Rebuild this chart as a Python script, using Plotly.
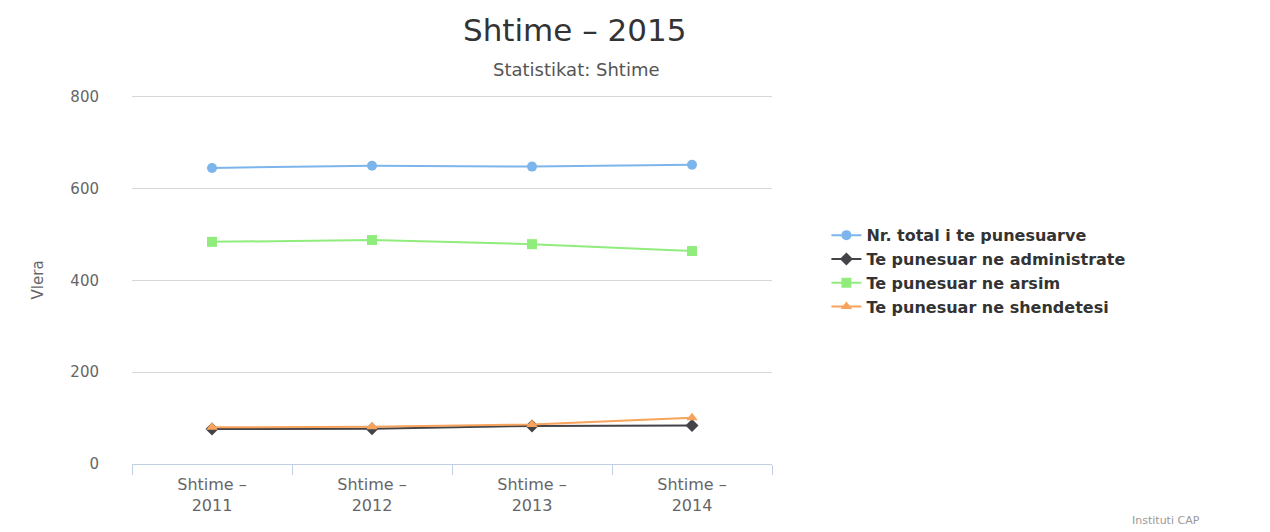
import plotly.graph_objects as go

categories = ["Shtime –<br>2011", "Shtime –<br>2012", "Shtime –<br>2013", "Shtime –<br>2014"]
total = [645, 650, 648, 652]
administrate = [76, 77, 83, 84]
arsim = [484, 488, 479, 464]
shendetesi = [80, 81, 86, 101]

series = [
    ("Nr. total i te punesuarve", total, "#7cb5ec", "circle"),
    ("Te punesuar ne administrate", administrate, "#434348", "diamond"),
    ("Te punesuar ne arsim", arsim, "#90ed7d", "square"),
    ("Te punesuar ne shendetesi", shendetesi, "#f7a35c", "triangle-up"),
]

FONT = "DejaVu Sans"
fig = go.Figure()
for i, (name, vals, col, sym) in enumerate(series):
    fig.add_trace(go.Scatter(
        x=categories, y=vals, name=name, mode="lines+markers",
        line=dict(color=col, width=2),
        marker=dict(color=col, symbol=sym, size=10),
    ))

fig.update_layout(
    width=1270, height=532,
    paper_bgcolor="white", plot_bgcolor="white",
    margin=dict(l=124, r=506, t=87, b=76),
    font=dict(family=FONT, color="#666666"),
    showlegend=True,
    legend=dict(
        x=1.085, y=0.666, xanchor="left", yanchor="top",
        font=dict(family=FONT, size=16, color="#333333", weight="bold"),
        itemwidth=30, bgcolor="rgba(0,0,0,0)",
    ),
    xaxis=dict(
        type="category", showgrid=False, showline=True, linecolor="#C0D0E0", linewidth=1,
        ticks="outside", tickson="boundaries", ticklen=10, tickcolor="#C0D0E0",
        tickfont=dict(family=FONT, size=16, color="#666666"),
        ticklabelstandoff=6,
        range=[-0.5, 3.5], fixedrange=True,
    ),
    yaxis=dict(
        range=[0, 804], tickvals=[0, 200, 400, 600, 800], showgrid=True,
        gridcolor="#D8D8D8", gridwidth=1, zeroline=False, showline=False,
        tickfont=dict(family=FONT, size=15, color="#666666"),
        ticklabelstandoff=32,
    ),
    annotations=[
        dict(text="Shtime – 2015", x=0.692, y=1.176, xref="paper", yref="paper",
             xanchor="center", yanchor="middle", showarrow=False,
             font=dict(family=FONT, size=31, color="#333333")),
        dict(text="Statistikat: Shtime", x=0.695, y=1.069, xref="paper", yref="paper",
             xanchor="center", yanchor="middle", showarrow=False,
             font=dict(family=FONT, size=18, color="#555555")),
        dict(text="Vlera", x=-0.147, y=0.5, xref="paper", yref="paper",
             xanchor="center", yanchor="middle", showarrow=False, textangle=-90,
             font=dict(family=FONT, size=15, color="#666666")),
        dict(text="Instituti CAP", x=1.615, y=-0.152, xref="paper", yref="paper",
             xanchor="center", yanchor="middle", showarrow=False,
             font=dict(family=FONT, size=11, color="#999999")),
    ],
)

fig.write_html("out.html")
